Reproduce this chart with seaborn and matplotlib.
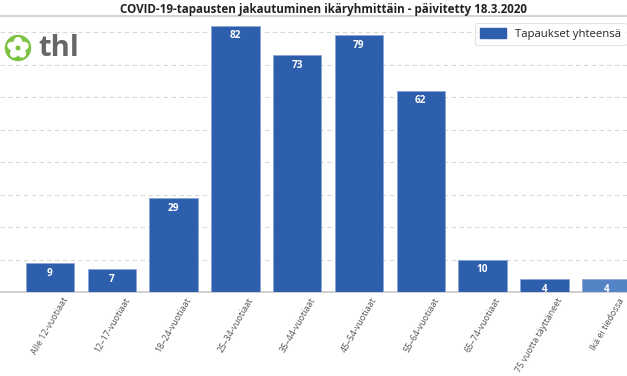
import numpy as np
import pandas as pd
import seaborn as sns
import matplotlib.pyplot as plt
import matplotlib.transforms as mtransforms
from matplotlib.patches import Circle, Ellipse, Patch

categories = ["Alle 12-vuotiaat", "12–17-vuotiaat", "18–24-vuotiaat", "25–34-vuotiaat",
              "35–44-vuotiaat", "45–54-vuotiaat", "55–64-vuotiaat", "65–74-vuotiaat",
              "75 vuotta täyttäneet", "Ikä ei tiedossa"]
values = [9, 7, 29, 82, 73, 79, 62, 10, 4, 4]
series_name = "Tapaukset yhteensä"
title = "COVID-19-tapausten jakautuminen ikäryhmittäin - päivitetty 18.3.2020"

sns.set_theme(style="white")
plt.rcParams['font.family'] = ['Open Sans', 'DejaVu Sans']

W, H = 627, 376
fig = plt.figure(figsize=(W / 100, H / 100), dpi=100)
ax = fig.add_axes([0, (H - 292) / H, 1, (292 - 16) / H])

df = pd.DataFrame({"cat": categories, "val": values})
main = "#2e5fad"
palette = [main] * 9 + ["#5584c6"]
sns.barplot(data=df, x="cat", y="val", hue="cat", palette=palette, legend=False,
            saturation=1, width=0.78, edgecolor="#8aa6d6", linewidth=0.6, ax=ax, zorder=3)

ax.set_xlim(-50 / 61.8, (W - 50) / 61.8)
ax.set_ylim(0, (292 - 16) / 3.25)
ax.set_yticks(range(10, 90, 10))
ax.yaxis.grid(True, linestyle=(0, (4, 3)), color="#d8d8d8", linewidth=0.8, zorder=0)
ax.set_yticklabels([])
ax.tick_params(axis="y", length=0)
ax.set_xlabel("")
ax.set_ylabel("")
for s in ["top", "left", "right"]:
    ax.spines[s].set_visible(False)
ax.spines["bottom"].set_color("#c8c8c8")
ax.spines["bottom"].set_linewidth(1.2)

ax.tick_params(axis="x", length=0, pad=3)
ax.set_xticks(range(len(categories)))
ax.set_xticklabels(categories, rotation=60, ha="right", rotation_mode="anchor",
                   fontsize=6.4, color="#555555")
offset = mtransforms.ScaledTranslation(12 / 100, 0, fig.dpi_scale_trans)
for lab in ax.get_xticklabels():
    lab.set_transform(lab.get_transform() + offset)

for i, v in enumerate(values):
    ax.annotate(str(v), (i, v), xytext=(0, -7.5), textcoords="offset points",
                ha="center", va="center", color="white", fontsize=7.2,
                fontweight="bold", zorder=5)

# title and separator
fig.text(323 / W, 1 - 9 / H, title, ha="center", va="center", fontsize=8.4,
         fontweight="bold", color="#222222")
fig.add_artist(plt.Line2D([0, 1], [1 - 16 / H, 1 - 16 / H], color="#cccccc", lw=1.2))

# legend
leg = fig.legend(handles=[Patch(facecolor=main, edgecolor=main)], labels=[series_name],
                 loc="upper left", bbox_to_anchor=(475 / W, 1 - 23 / H),
                 fontsize=8.2, frameon=True, handlelength=2.3, handleheight=0.9,
                 handletextpad=0.8, borderpad=0.45, borderaxespad=0)
leg.get_frame().set_edgecolor("#dddddd")
leg.get_frame().set_linewidth(0.8)

# thl logo (drawn in a pixel-scaled helper axes)
lax = fig.add_axes([0, 1 - 64 / H, 36 / W, 32 / H])
lax.set_xlim(0, 36)
lax.set_ylim(0, 32)
lax.axis("off")
green = "#7dc242"
cx, cy, r = 18, 16, 12.5
lax.add_patch(Circle((cx, cy), r, color=green))
for k in range(5):
    deg = 90 + k * 72
    ang = np.deg2rad(deg)
    lax.add_patch(Ellipse((cx + 5.6 * np.cos(ang), cy + 5.6 * np.sin(ang)), 9.5, 7.4,
                          angle=deg, color="white"))
lax.add_patch(Circle((cx, cy), 1.8, color=green))
fig.text(38 / W, 1 - 49 / H, "thl", ha="left", va="center", fontsize=21,
         fontweight="bold", color="#666666")

fig.savefig("out.png", dpi=100)
